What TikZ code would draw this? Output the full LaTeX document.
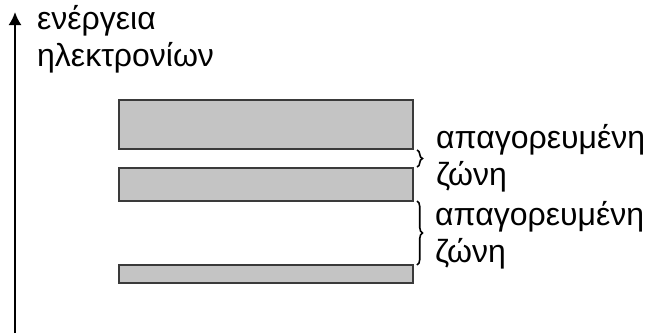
\documentclass[tikz,border=0pt]{standalone}
\usepackage{fontspec}
\setmainfont{Liberation Sans}
\usetikzlibrary{arrows.meta,decorations.pathreplacing}
\definecolor{bandfill}{HTML}{C4C4C4}
\definecolor{bandedge}{HTML}{3A3A3A}
\begin{document}
\begin{tikzpicture}[x=1pt,y=-1pt,
  band/.style={draw=bandedge,line width=1.3pt,fill=bandfill,inner sep=0pt,outer sep=0pt,anchor=north west},
  label/.style={font=\fontsize{32}{37}\selectfont,align=left,anchor=base west,inner sep=0pt},
  gapbrace/.style={decorate,decoration={brace,amplitude=5.5pt},line width=1.6pt}]
\useasboundingbox (0,0) rectangle (646,333);
% energy axis
\coordinate (axisfoot) at (15,333);
\coordinate (axistip) at (15,12);
\draw[line width=2pt,-{Latex[length=13pt,width=13pt]}] (axisfoot) -- (axistip);
% the base anchor of a two-line label sits on its second line
\node[label] (axislabel) at (37,66) {ενέργεια\\ηλεκτρονίων};
% allowed bands
\node[band,minimum width=294pt,minimum height=49pt] (b1) at (119,100) {};
\node[band,minimum width=294pt,minimum height=33pt] (b2) at (119,168) {};
\node[band,minimum width=294pt,minimum height=18pt] (b3) at (119,265) {};
% forbidden gaps
\draw[gapbrace] ([xshift=4pt,yshift=-1pt]b1.south east) -- ([xshift=4pt,yshift=1pt]b2.north east);
\draw[gapbrace] ([xshift=4pt,yshift=0pt]b2.south east) -- ([xshift=4pt,yshift=0pt]b3.north east);
\node[label] (gap1) at (436,185) {απαγορευμένη\\ζώνη};
\node[label] (gap2) at (435,262) {απαγορευμένη\\ζώνη};
\end{tikzpicture}
\end{document}
